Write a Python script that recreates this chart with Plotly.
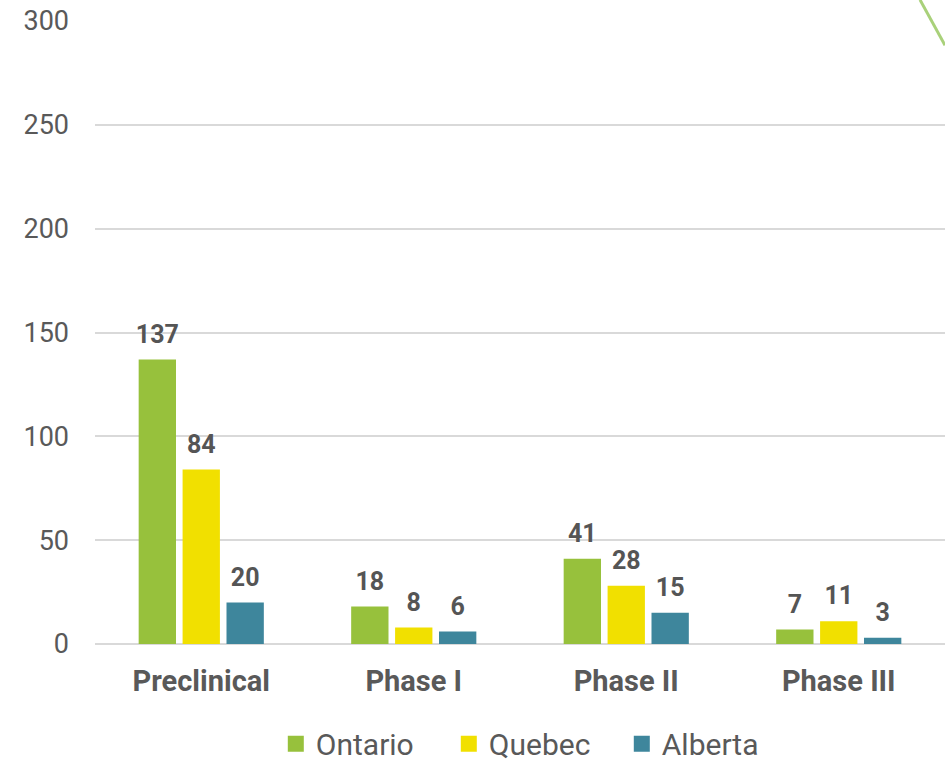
import plotly.graph_objects as go

categories = ["Preclinical", "Phase I", "Phase II", "Phase III"]
ontario = [137, 18, 41, 7]
quebec = [84, 8, 28, 11]
alberta = [20, 6, 15, 3]
series_names = ["Ontario", "Quebec", "Alberta"]
colors = ["#97C13C", "#F1E000", "#3E869C"]
y_ticks = [0, 50, 100, 150, 200, 250, 300]

fig = go.Figure()
for name, vals, col in zip(series_names, [ontario, quebec, alberta], colors):
    fig.add_trace(go.Bar(
        x=categories, y=vals, name=name, marker_color=col, marker_line_width=0,
        text=vals, showlegend=False, constraintext="none",
        texttemplate="<span style='font-size:25px'><b>%{y}</b></span><br> ",
        textposition="outside", cliponaxis=False,
        textfont=dict(family="Roboto", size=9, color="#555555"),
    ))
# legend entries (square swatches)
for name, col in zip(series_names, colors):
    fig.add_trace(go.Scatter(
        x=[None], y=[None], mode="markers", name=name,
        marker=dict(symbol="square", size=17, color=col),
    ))

fig.update_layout(
    width=945, height=762,
    margin=dict(l=95, r=0, t=21, b=118),
    paper_bgcolor="white", plot_bgcolor="white",
    barmode="group", bargap=0.38, bargroupgap=0.15,
    font=dict(family="Roboto", color="#595959"),
    showlegend=True,
    legend=dict(orientation="h", x=0.518, xanchor="center",
                yref="container", y=0.024, yanchor="middle",
                font=dict(family="Roboto", size=30, color="#595959"),
                itemwidth=30, entrywidth=128, traceorder="normal"),
    xaxis=dict(showgrid=False, showline=False, ticks="", ticklabelstandoff=17,
               tickfont=dict(family="Roboto", size=29, color="#595959", weight="bold")),
    yaxis=dict(range=[0, 300], tickvals=y_ticks, showgrid=True, gridcolor="#D9D9D9",
               gridwidth=1.5, zeroline=True, zerolinecolor="#D9D9D9", zerolinewidth=1.5,
               showline=False, ticks="", ticklabelstandoff=25, ticklabeloverflow="allow",
               tickfont=dict(family="Roboto", size=27, color="#595959")),
    shapes=[dict(type="line", xref="paper", yref="paper", x0=0.9706, y0=1.034, x1=1.0, y1=0.961,
                 line=dict(color="#A9D17A", width=3), layer="above")],
)

fig.write_html(
    "out.html",
    config={"displayModeBar": False},
    post_script="document.body.style.margin='0';document.body.style.overflow='hidden';",
)
